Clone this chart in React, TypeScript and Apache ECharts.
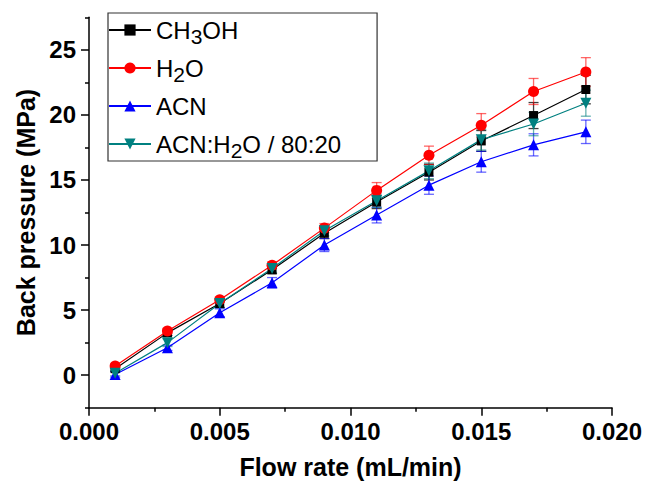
import React, { useEffect, useRef } from "react";
import * as echarts from "echarts";

const flowRates = [0.001, 0.003, 0.005, 0.007, 0.009, 0.011, 0.013, 0.015, 0.017, 0.019];
const ch3ohValues = [0.5, 3.25, 5.5, 8.1, 10.9, 13.3, 15.6, 18.0, 19.95, 21.95];
const h2oValues = [0.7, 3.4, 5.8, 8.45, 11.3, 14.2, 16.9, 19.2, 21.8, 23.3];
const acnValues = [0.05, 2.1, 4.8, 7.1, 10.0, 12.3, 14.6, 16.4, 17.7, 18.7];
const mixValues = [0.15, 2.5, 5.5, 8.2, 11.1, 13.4, 15.7, 18.1, 19.3, 20.9];

const ch3ohErr = [0.2, 0.2, 0.3, 0.3, 0.4, 0.5, 0.6, 0.8, 1.0, 1.1];
const h2oErr = [0.2, 0.2, 0.2, 0.25, 0.35, 0.6, 0.7, 0.9, 1.0, 1.1];
const acnErr = [0.2, 0.2, 0.3, 0.4, 0.5, 0.6, 0.7, 0.8, 0.85, 0.9];
const mixErr = [0.2, 0.3, 0.3, 0.3, 0.4, 0.5, 0.6, 0.8, 0.9, 1.0];

const yMajorTicks = [0, 5, 10, 15, 20, 25];
const yMinorTicks = [-2.5, 2.5, 7.5, 12.5, 17.5, 22.5, 27.5];

const seriesDefs = [
  { name: "CH3OH", label: "CH{s|3}OH", values: ch3ohValues, err: ch3ohErr, color: "#000000", errColor: "rgba(0,0,0,0.75)", symbol: "rect", size: 9, rotate: 0 },
  { name: "H2O", label: "H{s|2}O", values: h2oValues, err: h2oErr, color: "#ff0000", errColor: "rgba(255,0,0,0.6)", symbol: "circle", size: 11, rotate: 0 },
  { name: "ACN", label: "ACN", values: acnValues, err: acnErr, color: "#0000ff", errColor: "rgba(0,0,255,0.6)", symbol: "triangle", size: 11, rotate: 0 },
  { name: "ACN:H2O / 80:20", label: "ACN:H{s|2}O / 80:20", values: mixValues, err: mixErr, color: "#008080", errColor: "rgba(0,128,128,0.6)", symbol: "triangle", size: 11, rotate: 180 },
];

const FONT = "Arial, 'Liberation Sans', sans-serif";

export default function App() {
  const ref = useRef<HTMLDivElement>(null);
  useEffect(() => {
    if (!ref.current) return;
    const chart = echarts.init(ref.current, null, { renderer: "svg" });
    const labelMap: Record<string, string> = {};
    seriesDefs.forEach((d) => (labelMap[d.name] = d.label));

    const errSeries = seriesDefs.map((d) => ({
      type: "custom",
      name: "err-" + d.name,
      xAxisIndex: 0,
      yAxisIndex: 0,
      silent: true,
      z: 1,
      data: flowRates.map((x, i) => [x, d.values[i] - d.err[i], d.values[i] + d.err[i]]),
      renderItem: (params: any, api: any) => {
        const x = api.value(0);
        const top = api.coord([x, api.value(2)]);
        const bot = api.coord([x, api.value(1)]);
        const w = 5;
        const style = { stroke: d.errColor, lineWidth: 1.3 };
        return {
          type: "group",
          children: [
            { type: "line", shape: { x1: top[0], y1: top[1], x2: bot[0], y2: bot[1] }, style },
            { type: "line", shape: { x1: top[0] - w, y1: top[1], x2: top[0] + w, y2: top[1] }, style },
            { type: "line", shape: { x1: bot[0] - w, y1: bot[1], x2: bot[0] + w, y2: bot[1] }, style },
          ],
        };
      },
    }));

    const lineSeries = seriesDefs.map((d) => ({
      type: "line",
      name: d.name,
      xAxisIndex: 0,
      yAxisIndex: 0,
      z: 3,
      data: flowRates.map((x, i) => [x, d.values[i]]),
      symbol: d.symbol,
      symbolSize: d.size,
      symbolRotate: d.rotate,
      lineStyle: { color: d.color, width: 1.2 },
      itemStyle: { color: d.color },
    }));

    chart.setOption({
      animation: false,
      backgroundColor: "#ffffff",
      grid: { left: 89, right: 34, top: 17.3, bottom: 78.3, containLabel: false },
      legend: {
        data: seriesDefs.map((d) => d.name),
        orient: "vertical",
        left: 108,
        top: 13,
        padding: [0, 36, 0, 0],
        itemGap: 4,
        itemWidth: 42,
        itemHeight: 14,
        borderColor: "#333333",
        borderWidth: 1.2,
        backgroundColor: "#ffffff",
        formatter: (name: string) => labelMap[name] || name,
        textStyle: {
          fontFamily: FONT,
          fontSize: 24,
          color: "#000000",
          lineHeight: 34,
          rich: {
            s: { fontFamily: FONT, fontSize: 21, color: "#000000", verticalAlign: "bottom" },
          },
        },
      },
      xAxis: {
        type: "value",
        min: 0,
        max: 0.02,
        interval: 0.005,
        name: "Flow rate (mL/min)",
        nameLocation: "middle",
        nameGap: 47,
        nameTextStyle: { fontFamily: FONT, fontSize: 25, fontWeight: "bold", color: "#000" },
        axisLine: { onZero: false, lineStyle: { color: "#000", width: 1.5 } },
        axisTick: { show: true, inside: false, length: 8, lineStyle: { color: "#000", width: 1.5 } },
        minorTick: { show: true, splitNumber: 2, length: 4, lineStyle: { color: "#000", width: 1.5 } },
        splitLine: { show: false },
        axisLabel: {
          margin: 12,
          fontFamily: FONT,
          fontSize: 24,
          fontWeight: "bold",
          color: "#000",
          formatter: (v: number) => v.toFixed(3),
        },
      },
      yAxis: [
        {
          type: "value",
          min: -2.5,
          max: 27.5,
          name: "Back pressure (MPa)",
          nameLocation: "middle",
          nameGap: 48,
          nameTextStyle: { fontFamily: FONT, fontSize: 25, fontWeight: "bold", color: "#000" },
          axisLine: { show: true, onZero: false, lineStyle: { color: "#000", width: 1.5 } },
          axisTick: { show: true, length: 8, customValues: yMajorTicks, lineStyle: { color: "#000", width: 1.5 } },
          splitLine: { show: false },
          axisLabel: {
            margin: 13,
            customValues: yMajorTicks,
            fontFamily: FONT,
            fontSize: 24,
            fontWeight: "bold",
            color: "#000",
          },
        },
        {
          type: "value",
          min: -2.5,
          max: 27.5,
          position: "left",
          axisLine: { show: false, onZero: false },
          axisTick: { show: true, length: 4, customValues: yMinorTicks, lineStyle: { color: "#000", width: 1.5 } },
          axisLabel: { show: false, customValues: yMinorTicks },
          splitLine: { show: false },
        },
      ],
      series: [...errSeries, ...lineSeries],
    });
    return () => chart.dispose();
  }, []);
  return (
    <div
      ref={ref}
      style={{ position: "fixed", left: 0, top: 0, width: 646, height: 486, background: "#fff" }}
    />
  );
}
